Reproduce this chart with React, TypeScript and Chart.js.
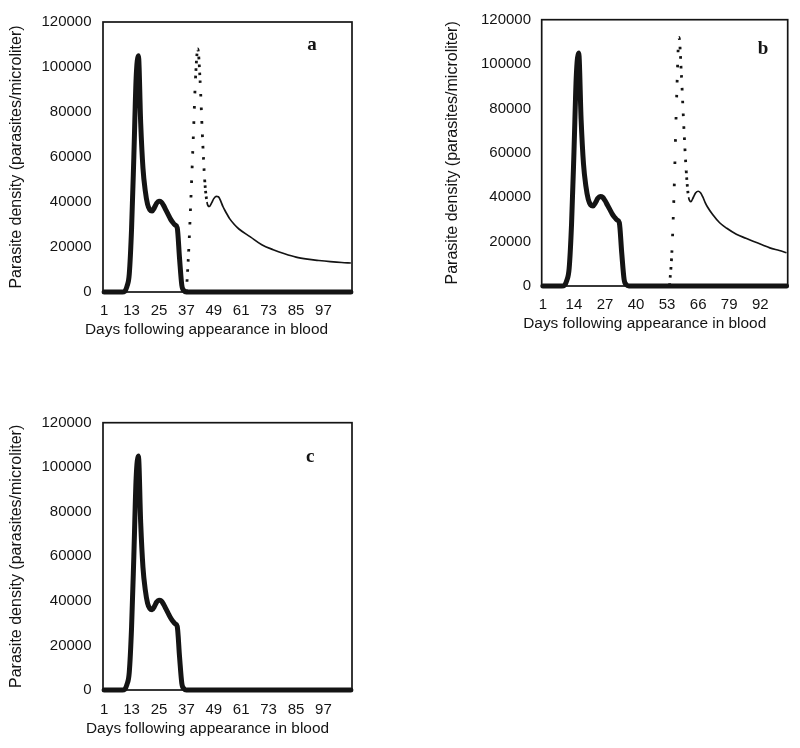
import React, { useEffect, useRef } from "react";
import { Chart, registerables } from "chart.js";

Chart.register(...registerables);

// ---------- data ----------
const Y_TICKS = [0, 20000, 40000, 60000, 80000, 100000, 120000];
const X_TICKS_AC = [1, 13, 25, 37, 49, 61, 73, 85, 97];
const X_TICKS_B = [1, 14, 27, 40, 53, 66, 79, 92];
const LAST_DAY_AC = 109;
const LAST_DAY_B = 103;

// first wave (thick line), same in all panels
const WAVE1_DAYS = [1, 9, 10, 11, 12, 13, 14, 15, 16, 17, 18, 19, 20, 21, 22, 23, 24, 25, 26, 27, 28, 29, 30, 31, 32, 33, 34, 35, 36, 37];
const WAVE1_VALUES = [0, 0, 300, 2500, 8000, 28000, 60000, 95000, 105000, 75000, 55000, 45000, 39000, 36500, 36000, 37500, 39500, 40300, 40000, 38500, 36500, 34500, 32500, 31000, 29800, 28500, 15000, 3000, 500, 0];

// second wave, panel a
const WAVE2_A_DAYS = [37, 38, 39, 40, 41, 42, 43, 44, 45, 46, 47, 48, 49, 50, 51, 52, 53, 54, 55, 56, 58, 60, 65, 70, 75, 80, 85, 90, 95, 100, 105, 109];
const WAVE2_A_VALUES = [0, 18000, 42000, 68000, 95000, 108000, 94000, 70000, 50000, 40000, 38000, 39500, 41500, 42500, 42300, 40500, 38000, 36000, 34200, 32500, 30000, 28000, 24500, 21000, 18800, 17000, 15500, 14600, 14000, 13500, 13100, 12900];

// second wave, panel b
const WAVE2_B_DAYS = [54, 55, 56, 57, 58, 59, 60, 61, 62, 63, 64, 65, 66, 67, 68, 69, 70, 72, 75, 78, 82, 86, 89, 93, 96, 100, 103];
const WAVE2_B_VALUES = [0, 15000, 45000, 85000, 112000, 95000, 72000, 52000, 40000, 38000, 40000, 42000, 42700, 42000, 40000, 37500, 35500, 32300, 28500, 26000, 23300, 21500, 20200, 18500, 17200, 16000, 15000];

const Y_TITLE = "Parasite density (parasites/microliter)";
const X_TITLE = "Days following appearance in blood";

// ---------- helpers ----------
const toPoints = (days: number[], values: number[]) =>
  days.map((d, i) => ({ x: d, y: values[i] }));

const SANS = "'Liberation Sans', Arial, sans-serif";
const INK = "#141414";

// Dotted look on steep parts (sampled-points appearance), thin solid on flat parts
const segSpacing = (ctx: any) => {
  const { p0, p1 } = ctx;
  const data = ctx.chart.data.datasets[ctx.datasetIndex].data as { x: number; y: number }[];
  const a = data[ctx.p0DataIndex];
  const b = data[ctx.p1DataIndex];
  if (!a || !b) return 0;
  const days = Math.max(0.0001, b.x - a.x);
  const len = Math.hypot(p1.x - p0.x, p1.y - p0.y);
  return len / (days * 4);
};
const dotDash = (ctx: any) => {
  const s = segSpacing(ctx);
  if (s < 3) return undefined;
  return [2.6, s - 2.6];
};
const dotWidth = (ctx: any) => (segSpacing(ctx) < 3 ? undefined : 2.8);

const framePlugin = {
  id: "frame",
  beforeDatasetsDraw(chart: any) {
    const { ctx, chartArea } = chart;
    const { left, top, right, bottom } = chartArea;
    ctx.save();
    ctx.strokeStyle = INK;
    ctx.lineWidth = 1.7;
    ctx.strokeRect(left, top, right - left, bottom - top);
    ctx.restore();
  },
  afterDraw(chart: any, _args: any, opts: any) {
    const { ctx, chartArea } = chart;
    ctx.save();
    ctx.fillStyle = INK;
    ctx.textAlign = "center";
    ctx.textBaseline = "middle";
    // panel letter
    ctx.font = "bold 19px 'Liberation Serif', 'Times New Roman', serif";
    ctx.fillText(opts.letter, chartArea.right - opts.dx, chartArea.top + opts.dy);
    // x axis title
    ctx.font = `15.4px ${SANS}`;
    ctx.fillText(
      opts.xTitle,
      (chartArea.left + chartArea.right) / 2 + opts.xTitleDx,
      chartArea.bottom + opts.xTitleDy
    );
    ctx.restore();
  },
};

type PanelCfg = {
  left: number;
  top: number;
  width: number;
  height: number;
  yAxisWidth: number;
  xAxisHeight: number;
  padTop: number;
  padRight: number;
  padBottom: number;
  xTicks: number[];
  lastDay: number;
  wave2Days?: number[];
  wave2Values?: number[];
  letter: string;
  letterDx: number;
  letterDy: number;
  yTickPad: number;
  xTickPad: number;
  yTitlePad: number;
  xTitleDx: number;
  xTitleDy: number;
};

const PANELS: PanelCfg[] = [
  {
    left: 0, top: 0, width: 370, height: 345,
    yAxisWidth: 103, xAxisHeight: 50, padTop: 22, padRight: 18, padBottom: 3,
    xTicks: X_TICKS_AC, lastDay: LAST_DAY_AC,
    wave2Days: WAVE2_A_DAYS, wave2Values: WAVE2_A_VALUES,
    letter: "a", letterDx: 40, letterDy: 23,
    yTickPad: 11.5, xTickPad: 10, yTitlePad: 7, xTitleDx: -21, xTitleDy: 38,
  },
  {
    left: 430, top: 0, width: 370, height: 345,
    yAxisWidth: 111.7, xAxisHeight: 50, padTop: 19, padRight: 12.3, padBottom: 9,
    xTicks: X_TICKS_B, lastDay: LAST_DAY_B,
    wave2Days: WAVE2_B_DAYS, wave2Values: WAVE2_B_VALUES,
    letter: "b", letterDx: 24.7, letterDy: 29,
    yTickPad: 10.7, xTickPad: 10, yTitlePad: 13.3, xTitleDx: -20, xTitleDy: 37.3,
  },
  {
    left: 0, top: 400, width: 370, height: 348,
    yAxisWidth: 103, xAxisHeight: 50, padTop: 22.7, padRight: 18, padBottom: 8,
    xTicks: X_TICKS_AC, lastDay: LAST_DAY_AC,
    letter: "c", letterDx: 41.7, letterDy: 34,
    yTickPad: 11.5, xTickPad: 11, yTitlePad: 6.7, xTitleDx: -20, xTitleDy: 38.3,
  },
];

function Panel({ cfg }: { cfg: PanelCfg }) {
  const ref = useRef<HTMLCanvasElement | null>(null);

  useEffect(() => {
    if (!ref.current) return;
    const wave1 = [...toPoints(WAVE1_DAYS, WAVE1_VALUES), { x: cfg.lastDay, y: 0 }];
    const datasets: any[] = [];
    if (cfg.wave2Days && cfg.wave2Values) {
      datasets.push({
        label: "second wave",
        data: toPoints(cfg.wave2Days, cfg.wave2Values),
        borderColor: INK,
        borderWidth: 1.7,
        pointRadius: 0,
        cubicInterpolationMode: "monotone",
        borderCapStyle: "butt",
        segment: { borderDash: dotDash, borderWidth: dotWidth },
        clip: false,
      });
    }
    datasets.push({
      label: "first wave",
      data: wave1,
      borderColor: INK,
      borderWidth: 5,
      pointRadius: 0,
      cubicInterpolationMode: "monotone",
      borderJoinStyle: "round",
      borderCapStyle: "round",
      clip: false,
    });

    const tickFont = { family: SANS, size: 15 };

    const chart = new Chart(ref.current, {
      type: "line",
      data: { datasets },
      options: {
        animation: false,
        responsive: false,
        maintainAspectRatio: false,
        layout: {
          padding: { left: 0, top: cfg.padTop, right: cfg.padRight, bottom: cfg.padBottom },
        },
        plugins: {
          legend: { display: false },
          tooltip: { enabled: false },
          // @ts-ignore
          frame: {
            letter: cfg.letter,
            dx: cfg.letterDx,
            dy: cfg.letterDy,
            xTitle: X_TITLE,
            xTitleDx: cfg.xTitleDx,
            xTitleDy: cfg.xTitleDy,
          },
        },
        scales: {
          x: {
            type: "linear",
            min: 0.5,
            max: cfg.lastDay + 0.5,
            grid: { display: false, drawTicks: false },
            border: { display: false },
            afterBuildTicks: (axis: any) => {
              axis.ticks = cfg.xTicks.map((v) => ({ value: v }));
            },
            afterFit: (axis: any) => {
              axis.height = cfg.xAxisHeight;
            },
            ticks: {
              autoSkip: false,
              maxRotation: 0,
              minRotation: 0,
              padding: cfg.xTickPad,
              color: INK,
              font: tickFont,
              callback: (v: any) => String(v),
            },
            title: { display: false, text: X_TITLE },
          },
          y: {
            type: "linear",
            min: 0,
            max: 120000,
            grid: { display: false, drawTicks: false },
            border: { display: false },
            afterBuildTicks: (axis: any) => {
              axis.ticks = Y_TICKS.map((v) => ({ value: v }));
            },
            afterFit: (axis: any) => {
              axis.width = cfg.yAxisWidth;
            },
            ticks: {
              padding: cfg.yTickPad,
              color: INK,
              font: tickFont,
              callback: (v: any) => String(v),
            },
            title: {
              display: true,
              text: Y_TITLE,
              color: INK,
              font: { family: SANS, size: 16 },
              padding: { top: cfg.yTitlePad, bottom: 0 },
            },
          },
        },
      },
      plugins: [framePlugin as any],
    });
    return () => chart.destroy();
  }, [cfg]);

  return (
    <canvas
      ref={ref}
      width={cfg.width}
      height={cfg.height}
      style={{
        position: "absolute",
        left: cfg.left,
        top: cfg.top,
        width: cfg.width,
        height: cfg.height,
      }}
    />
  );
}

export default function App() {
  return (
    <div
      style={{
        position: "absolute",
        left: 0,
        top: 0,
        width: 800,
        height: 748,
        background: "#ffffff",
        overflow: "hidden",
      }}
    >
      {PANELS.map((p) => (
        <Panel key={p.letter} cfg={p} />
      ))}
    </div>
  );
}
